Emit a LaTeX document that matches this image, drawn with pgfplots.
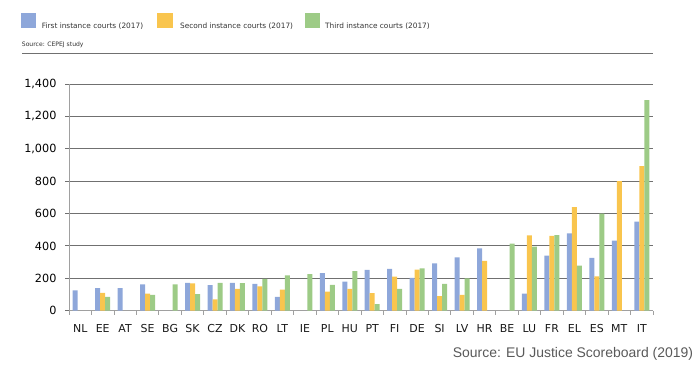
\documentclass[border=0pt]{standalone}
\usepackage{pgfplots}
\pgfplotsset{compat=1.18}
\usepackage{fontspec}
\setmainfont{DejaVu Sans}
\newfontfamily\lib{Liberation Sans}
\definecolor{cblue}{HTML}{8EA7DA}
\definecolor{cyellow}{HTML}{F9C54E}
\definecolor{cgreen}{HTML}{9DCB86}
\definecolor{gridgray}{HTML}{707070}
\definecolor{axisgray}{HTML}{A0A0A0}
\definecolor{txtgray}{HTML}{333333}
\definecolor{srcgray}{HTML}{595959}
\begin{document}
\begin{tikzpicture}[x=1bp,y=1bp]
\path[use as bounding box] (0,0) rectangle (700,373);
% legend
\fill[cblue] (21,344.7) rectangle (36,359.7);
\node[anchor=base west, inner sep=0, font=\fontsize{7.4}{9}\selectfont, text=txtgray] at (41.7,345) {First instance courts (2017)};
\fill[cyellow] (156.7,344.7) rectangle (173,359.7);
\node[anchor=base west, inner sep=0, font=\fontsize{7.4}{9}\selectfont, text=txtgray] at (180,345) {Second instance courts (2017)};
\fill[cgreen] (305,344.7) rectangle (320,359.7);
\node[anchor=base west, inner sep=0, font=\fontsize{7.4}{9}\selectfont, text=txtgray] at (325,345) {Third instance courts (2017)};
\node[anchor=base west, inner sep=0, font=\fontsize{6.1}{8}\selectfont, text=txtgray] at (21.7,326.5) {Source: CEPEJ study};
\draw[gridgray, line width=1.2bp] (22,319.7) -- (653,319.7);
\begin{axis}[
  at={(69bp,62.3bp)}, anchor=south west,
  scale only axis, width=584bp, height=226.7bp,
  xmin=-0.5, xmax=25.5, ymin=0, ymax=1400,
  ybar=0pt, bar width=5bp,
  axis x line*=bottom, axis y line*=left,
  axis line style={draw=axisgray, line width=0.8bp},
  ytick={0,200,...,1400},
  ymajorgrids, grid style={draw=gridgray, line width=0.9bp},
  ytick style={draw=gridgray, line width=0.9bp},
  tick align=outside, major tick length=4bp,
  yticklabel style={font=\fontsize{11.3}{13}\selectfont, text=black, xshift=-5bp},
  /pgf/number format/assume math mode=true,
  /pgf/number format/1000 sep={,},
  scaled y ticks=false,
  xtick={0,...,25},
  xticklabels={NL,EE,AT,SE,BG,SK,CZ,DK,RO,LT,IE,PL,HU,PT,FI,DE,SI,LV,HR,BE,LU,FR,EL,ES,MT,IT},
  x tick label style={font=\fontsize{11}{13}\selectfont, text=black!90, yshift=-6bp},
  xtick style={draw=none},
  extra x ticks={-0.5,0.5,...,25.5},
  extra x tick labels={},
  extra x tick style={xtick style={draw=axisgray, line width=0.8bp}, major tick length=4bp, tick align=outside},
]
\addplot[fill=cblue, draw=none] coordinates {
(0,125) (1,140) (2,140) (3,162) (5,172) (6,158) (7,172) (8,165) (9,85)
(11,232) (12,180) (13,252) (14,258) (15,202) (16,292) (17,330) (18,385)
(20,105) (21,340) (22,478) (23,327) (24,432) (25,550)};
\addplot[fill=cyellow, draw=none] coordinates {
(1,110) (3,105) (5,168) (6,70) (7,135) (8,150) (9,130)
(11,118) (12,135) (13,108) (14,210) (15,253) (16,90) (17,98) (18,307)
(20,465) (21,462) (22,640) (23,212) (24,800) (25,893)};
\addplot[fill=cgreen, draw=none] coordinates {
(1,85) (3,97) (4,162) (5,103) (6,172) (7,170) (8,197) (9,218) (10,226)
(11,160) (12,245) (13,40) (14,135) (15,262) (16,165) (17,200)
(19,415) (20,395) (21,467) (22,278) (23,600) (25,1300)};
\end{axis}
\node[anchor=base west, inner sep=0, font=\lib\fontsize{14}{16}\selectfont, text=srcgray] at (452.7,16) {Source: EU Justice Scoreboard (2019)};
\end{tikzpicture}
\end{document}
